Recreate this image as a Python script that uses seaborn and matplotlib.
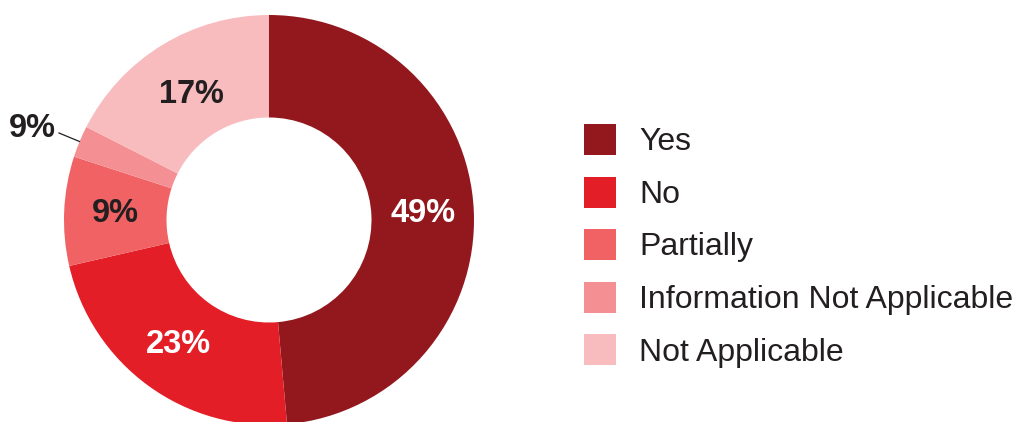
import numpy as np
import seaborn as sns
import matplotlib.pyplot as plt
from matplotlib.patches import Patch

categories = ['Yes', 'No', 'Partially', 'Information Not Applicable', 'Not Applicable']
shares = [48.6, 22.8, 8.6, 2.5, 17.5]
pct_labels = ['49%', '23%', '9%', '9%', '17%']
colors = ['#93181E', '#E31E26', '#F06264', '#F49093', '#F8BCBF']
label_colors = ['white', 'white', '#231F20', '#231F20', '#231F20']

sns.set_theme(style='white')
plt.rcParams['font.family'] = ['Liberation Sans', 'DejaVu Sans']

fig = plt.figure(figsize=(10.15, 4.22), dpi=100)
ax = fig.add_axes([64 / 1015, -3 / 422, 410 / 1015, 410 / 422])

wedges, _ = ax.pie(shares, colors=sns.color_palette(colors), startangle=90,
                   counterclock=False, radius=1.0,
                   wedgeprops=dict(width=0.5, linewidth=0))

for i, w in enumerate(wedges):
    mid = np.deg2rad((w.theta1 + w.theta2) / 2)
    if i == 3:
        # small slice: label outside with a leader line
        x0, y0 = np.cos(mid) * 1.0, np.sin(mid) * 1.0
        x1, y1 = np.cos(mid) * 1.11, np.sin(mid) * 1.11
        ax.plot([x0, x1], [y0, y1], color='#231F20', lw=0.9, clip_on=False)
        ax.text(x1 - 0.015, y1 + 0.02, pct_labels[i], ha='right', va='center',
                fontsize=23.5, fontweight='bold', color='#231F20')
    else:
        r = 0.72 if i == 4 else 0.75
        ax.text(np.cos(mid) * r, np.sin(mid) * r, pct_labels[i], ha='center',
                va='center', fontsize=23.5, fontweight='bold', color=label_colors[i])

ax.set_xlim(-1, 1)
ax.set_ylim(-1, 1)
ax.set_aspect('equal')
ax.axis('off')

handles = [Patch(facecolor=c, edgecolor='none') for c in colors]
fig.legend(handles, categories, loc='upper left', bbox_to_anchor=(584 / 1015, 1 - 124 / 422),
           frameon=False, fontsize=23, handlelength=1.0, handleheight=1.12,
           handletextpad=0.72, labelspacing=0.60, borderpad=0, borderaxespad=0,
           labelcolor='#231F20')

fig.savefig('out.png', dpi=100)
